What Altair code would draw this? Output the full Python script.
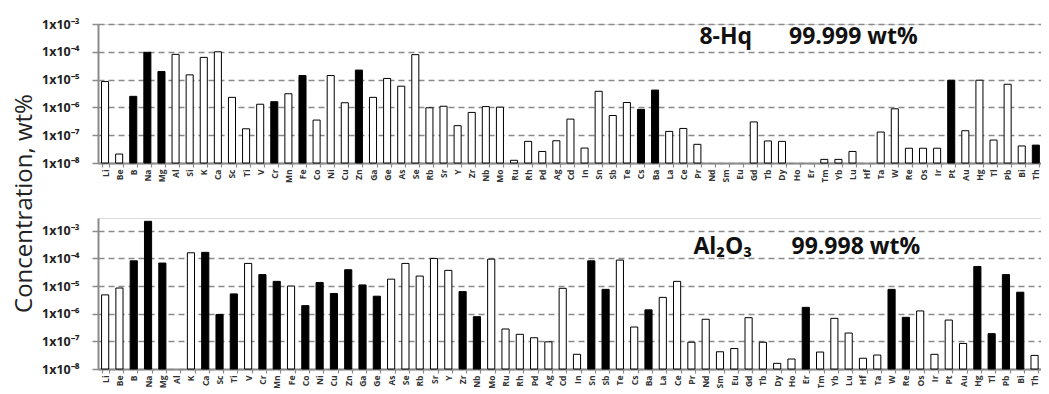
import altair as alt
import pandas as pd

# ---------------- data ----------------
elements_8hq = ["Li", "Be", "B", "Na", "Mg", "Al", "Si", "K", "Ca", "Sc", "Ti", "V", "Cr", "Mn", "Fe", "Co",
                "Ni", "Cu", "Zn", "Ga", "Ge", "As", "Se", "Rb", "Sr", "Y", "Zr", "Nb", "Mo", "Ru", "Rh", "Pd",
                "Ag", "Cd", "In", "Sn", "Sb", "Te", "Cs", "Ba", "La", "Ce", "Pr", "Nd", "Sm", "Eu", "Gd", "Tb",
                "Dy", "Ho", "Er", "Tm", "Yb", "Lu", "Hf", "Ta", "W", "Re", "Os", "Ir", "Pt", "Au", "Hg", "Tl",
                "Pb", "Bi", "Th", "U"]
conc_8hq = [8.5e-6, 2.1e-8, 2.5e-6, 9.6e-5, 1.95e-5, 8.1e-5, 1.48e-5, 6.3e-5, 1.0e-4, 2.3e-6, 1.7e-7, 1.3e-6,
            1.6e-6, 3.1e-6, 1.4e-5, 3.5e-7, 1.4e-5, 1.47e-6, 2.2e-5, 2.3e-6, 1.1e-5, 5.8e-6, 7.9e-5, 9.7e-7,
            1.1e-6, 2.2e-7, 6.6e-7, 1.07e-6, 1.02e-6, 1.25e-8, 6.0e-8, 2.6e-8, 6.3e-8, 3.8e-7, 3.45e-8, 3.8e-6,
            5.1e-7, 1.5e-6, 8.5e-7, 4.2e-6, 1.37e-7, 1.75e-7, 4.7e-8, None, None, None, 3.0e-7, 6.2e-8,
            6.0e-8, None, None, 1.35e-8, 1.35e-8, 2.6e-8, None, 1.3e-7, 8.9e-7, 3.4e-8, 3.4e-8, 3.4e-8,
            9.5e-6, 1.45e-7, 9.5e-6, 6.7e-8, 6.8e-6, 4.1e-8, 4.4e-8, 1.6e-8]
filled_8hq = [0, 0, 1, 1, 1, 0, 0, 0, 0, 0, 0, 0, 1, 0, 1, 0, 0, 0, 1, 0, 0, 0, 0, 0, 0, 0, 0, 0, 0, 0, 0, 0,
              0, 0, 0, 0, 0, 0, 1, 1, 0, 0, 0, 0, 0, 0, 0, 0, 0, 0, 0, 0, 0, 0, 0, 0, 0, 0, 0, 0, 1, 0, 0, 0,
              0, 0, 1, 0]

elements_al2o3 = ["Li", "Be", "B", "Na", "Mg", "Al", "K", "Ca", "Sc", "Ti", "V", "Cr", "Mn", "Fe", "Co",
                  "Ni", "Cu", "Zn", "Ga", "Ge", "As", "Se", "Rb", "Sr", "Y", "Zr", "Nb", "Mo", "Ru", "Rh", "Pd",
                  "Ag", "Cd", "In", "Sn", "Sb", "Te", "Cs", "Ba", "La", "Ce", "Pr", "Nd", "Sm", "Eu", "Gd", "Tb",
                  "Dy", "Ho", "Er", "Tm", "Yb", "Lu", "Hf", "Ta", "W", "Re", "Os", "Ir", "Pt", "Au", "Hg", "Tl",
                  "Pb", "Bi", "Th", "U"]
conc_al2o3 = [4.8e-6, 8.5e-6, 8.2e-5, 2.2e-3, 6.8e-5, None, 1.6e-4, 1.66e-4, 9.4e-7, 5.2e-6, 6.6e-5, 2.6e-5,
              1.48e-5, 1.0e-5, 1.96e-6, 1.35e-5, 5.4e-6, 3.9e-5, 1.1e-5, 4.3e-6, 1.78e-5, 6.6e-5, 2.3e-5,
              1.0e-4, 3.7e-5, 6.3e-6, 7.8e-7, 9.4e-5, 2.8e-7, 1.8e-7, 1.35e-7, 9.6e-8, 8.3e-6, 3.4e-8, 8.2e-5,
              7.6e-6, 8.7e-5, 3.3e-7, 1.38e-6, 3.9e-6, 1.48e-5, 9.3e-8, 6.3e-7, 4.2e-8, 5.5e-8, 7.2e-7, 9.3e-8,
              1.6e-8, 2.3e-8, 1.7e-6, 4.1e-8, 6.8e-7, 2.0e-7, 2.45e-8, 3.2e-8, 7.6e-6, 7.4e-7, 1.26e-6, 3.4e-8,
              5.9e-7, 8.4e-8, 5.1e-5, 1.9e-7, 2.6e-5, 6.0e-6, 3.1e-8, 2.95e-5]
filled_al2o3 = [0, 0, 1, 1, 1, 0, 0, 1, 1, 1, 0, 1, 1, 0, 1, 1, 1, 1, 1, 1, 0, 0, 0, 0, 0, 1, 1, 0, 0, 0, 0,
                0, 0, 0, 1, 1, 0, 0, 1, 0, 0, 0, 0, 0, 0, 0, 0, 0, 0, 1, 0, 0, 0, 0, 0, 1, 1, 0, 0, 0, 0, 1, 1,
                1, 1, 0, 1]

y_ticks = [1e-8, 1e-7, 1e-6, 1e-5, 1e-4, 1e-3]

FONT = "Open Sans"
GREY = "#8a8a8a"

label_expr = ("'1x10' + '⁻' + substring('⁰¹²³⁴⁵⁶⁷⁸⁹', -round(log(datum.value)/LN10), "
              "-round(log(datum.value)/LN10) + 1)")


def panel(elements, conc, filled, width, height, ymax, texts, ytitle):
    df = pd.DataFrame({"element": elements, "value": conc,
                       "fill": ["black" if f else "white" for f in filled]}).dropna()
    xscale = alt.Scale(domain=elements, paddingInner=0.5, paddingOuter=0.25)
    xaxis = alt.Axis(title=None, labelAngle=-90, tickBand="extent", labelFont=FONT, labelFontSize=8.5,
                     labelFontWeight="bold", labelColor="#333", labelPadding=2, tickSize=4, tickColor=GREY,
                     tickWidth=1.2, domainColor=GREY, domainWidth=2, grid=False)
    yscale = alt.Scale(type="log", domain=[1e-8, ymax], nice=False)
    yaxis_kw = dict(values=y_ticks, labelExpr=label_expr, labelFont=FONT, labelFontSize=12.5,
                    labelFontWeight="bold", labelColor="#222", labelPadding=13, tickSize=6, tickColor=GREY,
                    tickWidth=1.5, domainColor=GREY, domainWidth=2, grid=True, gridColor=GREY,
                    gridDash=[6, 4], gridWidth=1.5)
    if ytitle:
        yaxis = alt.Axis(title=ytitle, titleFont=FONT, titleFontSize=24, titleFontWeight="normal",
                         titleColor="#222", titleX=-74, titleY=-15, titleAngle=270, titleAlign="center",
                         titleBaseline="middle", **yaxis_kw)
    else:
        yaxis = alt.Axis(title=None, **yaxis_kw)

    bars = alt.Chart(df).mark_bar(stroke="black", strokeWidth=1).encode(
        x=alt.X("element:N", sort=elements, scale=xscale, axis=xaxis),
        y=alt.Y("value:Q", scale=yscale, axis=yaxis),
        y2=alt.datum(1e-8),
        fill=alt.Fill("fill:N", scale=None),
    )
    layers = [bars]
    for txt, el, yv, dx in texts:
        tdf = pd.DataFrame({"element": [el], "value": [yv], "text": [txt]})
        layers.append(
            alt.Chart(tdf).mark_text(align="left", baseline="middle", font=FONT, fontSize=23,
                                     fontWeight="bold", color="#111", dx=dx).encode(
                x=alt.X("element:N", sort=elements, scale=xscale),
                y=alt.Y("value:Q", scale=yscale),
                text="text:N",
            )
        )
    return alt.layer(*layers).properties(width=width, height=height)


top = panel(elements_8hq, conc_8hq, filled_8hq, 959, 139, 1e-3,
            [("8-Hq", "Pr", 3.4e-4, 2), ("99.999 wt%", "Dy", 3.4e-4, 7)], None)
bottom = panel(elements_al2o3, conc_al2o3, filled_al2o3, 958, 151, 2.9e-3,
               [("Al₂O₃", "Pr", 2.7e-4, 2), ("99.998 wt%", "Ho", 2.7e-4, 0)], "Concentration, wt%")

chart = alt.vconcat(top, bottom, spacing=55, bounds="flush").properties(
    padding={"top": 9, "left": 3, "right": -17, "bottom": -2}
).configure_view(stroke=None).configure(background="white")

chart.save("out.html", embed_options={"renderer": "svg", "actions": False})
